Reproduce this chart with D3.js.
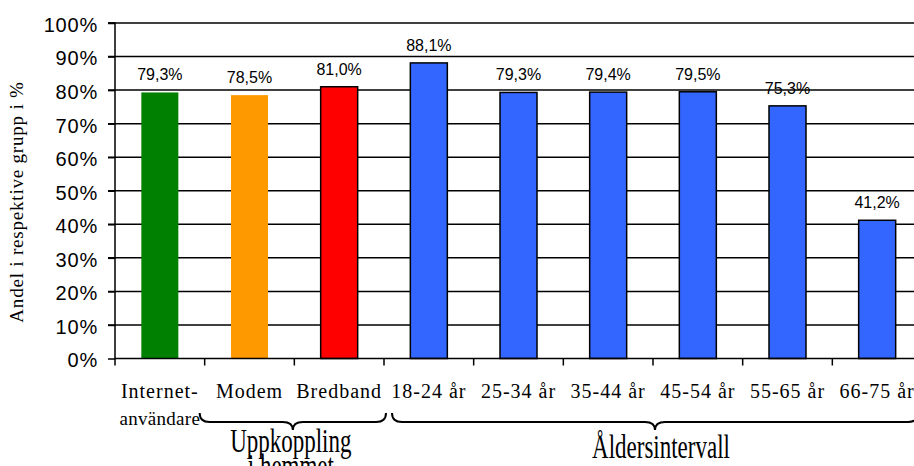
<!DOCTYPE html>
<html>
<head>
<meta charset="utf-8">
<script src="https://cdn.jsdelivr.net/npm/d3@7"></script>
<style>
  html, body { margin: 0; padding: 0; background: #fff; }
  svg { display: block; }
</style>
</head>
<body>
<div id="chart"></div>
<script>
// ── Data ─────────────────────────────────────────────────────────────────────
const categories = ['Internet-\nanvändare', 'Modem', 'Bredband', '18-24 år', '25-34 år',
                    '35-44 år', '45-54 år', '55-65 år', '66-75 år'];
const values     = [79.3, 78.5, 81.0, 88.1, 79.3, 79.4, 79.5, 75.3, 41.2];
const barColors  = ['#008000', '#ff9900', '#ff0000', '#3366ff', '#3366ff',
                    '#3366ff', '#3366ff', '#3366ff', '#3366ff'];
const outlined   = [false, false, true, true, true, true, true, true, true];
const yTicks     = [0, 10, 20, 30, 40, 50, 60, 70, 80, 90, 100];
const groups = [
  { label: ['Uppkoppling', 'i hemmet'], from: 'Modem', to: 'Bredband' },
  { label: ['Åldersintervall'], from: '18-24 år', to: '66-75 år' },
];
const yTitle = 'Andel i respektive grupp i %';

const W = 914, H = 466;
const plot = { left: 115, right: 922, top: 23, bottom: 358.5 };

const SERIF = '"Liberation Serif", "Times New Roman", serif';
const SANS  = '"Liberation Sans", Arial, sans-serif';

const svg = d3.select('#chart').append('svg')
  .attr('width', W).attr('height', H);

// ── Scales ───────────────────────────────────────────────────────────────────
const x = d3.scaleBand().domain(categories).range([plot.left, plot.right]).padding(0);
const y = d3.scaleLinear().domain([0, 100]).range([plot.bottom, plot.top]);
const bw = 37;

// ── Grid lines ───────────────────────────────────────────────────────────────
svg.append('g')
  .selectAll('line')
  .data(yTicks.filter(d => d > 0))
  .join('line')
  .attr('x1', plot.left - 7).attr('x2', W)
  .attr('y1', d => y(d)).attr('y2', d => y(d))
  .attr('stroke', '#000')
  .attr('stroke-width', 1.5);

// ── Bars ─────────────────────────────────────────────────────────────────────
svg.append('g')
  .selectAll('rect')
  .data(values)
  .join('rect')
  .attr('x', (d, i) => x(categories[i]) + (x.bandwidth() - bw) / 2)
  .attr('y', d => y(d))
  .attr('width', bw)
  .attr('height', d => y(0) - y(d))
  .attr('fill', (d, i) => barColors[i])
  .attr('stroke', (d, i) => outlined[i] ? '#000' : 'none')
  .attr('stroke-width', 1.5);

// ── Value labels ─────────────────────────────────────────────────────────────
svg.append('g')
  .selectAll('text')
  .data(values)
  .join('text')
  .attr('x', (d, i) => x(categories[i]) + x.bandwidth() / 2)
  .attr('y', d => y(d) - 12)
  .attr('text-anchor', 'middle')
  .attr('font-family', SANS)
  .attr('font-size', '16px')
  .attr('fill', '#000')
  .text(d => d.toFixed(1).replace('.', ',') + '%');

// ── Y axis ───────────────────────────────────────────────────────────────────
const yAxis = d3.axisLeft(y)
  .tickValues(yTicks)
  .tickSize(7)
  .tickPadding(10)
  .tickFormat(d => d + '%');

svg.append('g')
  .attr('transform', `translate(${plot.left},0)`)
  .call(yAxis)
  .call(ax => ax.select('.domain').attr('stroke', '#000').attr('stroke-width', 1.5)
    .attr('d', `M-7,${plot.top}H0V${plot.bottom + 7}`))
  .call(ax => ax.selectAll('.tick line').attr('stroke', '#000').attr('stroke-width', 1.5))
  .call(ax => ax.selectAll('.tick text')
    .attr('fill', '#000')
    .attr('font-family', SANS)
    .attr('font-size', '20px')
    .attr('letter-spacing', '0.8px')
    .attr('dy', '0.42em'));

// ── X axis ───────────────────────────────────────────────────────────────────
const boundaries = categories.map(c => x(c)).concat([plot.right]);
svg.append('line')
  .attr('x1', plot.left).attr('x2', W)
  .attr('y1', plot.bottom).attr('y2', plot.bottom)
  .attr('stroke', '#000').attr('stroke-width', 1.5);

svg.append('g')
  .selectAll('line')
  .data(boundaries.slice(1))
  .join('line')
  .attr('x1', d => d).attr('x2', d => d)
  .attr('y1', plot.bottom).attr('y2', plot.bottom + 7)
  .attr('stroke', '#000').attr('stroke-width', 1.5);

const xl = svg.append('g')
  .selectAll('text')
  .data(categories)
  .join('text')
  .attr('x', d => x(d) + x.bandwidth() / 2)
  .attr('y', 398)
  .attr('text-anchor', 'middle')
  .attr('font-family', SERIF)
  .attr('font-size', '20px')
  .attr('letter-spacing', '1px')
  .attr('fill', '#000');

xl.selectAll('tspan')
  .data(d => d.split('\n'))
  .join('tspan')
  .attr('x', function () { return d3.select(this.parentNode).attr('x'); })
  .attr('dy', (d, i) => i === 0 ? 0 : 27)
  .attr('font-size', (d, i) => i === 0 ? '20px' : '19px')
  .attr('letter-spacing', (d, i) => i === 0 ? '1px' : '0.3px')
  .text(d => d);

// ── Group braces ─────────────────────────────────────────────────────────────
const yEnd = 413, yLine = 422, yTip = 430, r = 10;
function brace(x1, x2) {
  const xm = (x1 + x2) / 2;
  return `M${x1},${yEnd} Q${x1},${yLine} ${x1 + r},${yLine} L${xm - r},${yLine} ` +
         `Q${xm},${yLine} ${xm},${yTip} Q${xm},${yLine} ${xm + r},${yLine} ` +
         `L${x2 - r},${yLine} Q${x2},${yLine} ${x2},${yEnd}`;
}

groups.forEach((g, gi) => {
  const x1 = x(g.from) - (gi === 0 ? 5 : -8);
  const x2 = x(g.to) + x.bandwidth() - (gi === 0 ? -2 : 4);
  svg.append('path')
    .attr('d', brace(x1, x2))
    .attr('fill', 'none')
    .attr('stroke', '#000')
    .attr('stroke-width', 2);

  const cx = (x1 + x2) / 2 + (gi === 0 ? -2 : 6);
  const t = svg.append('text')
    .attr('transform', `translate(${cx},${gi === 0 ? 452 : 458}) scale(1,1.45)`)
    .attr('text-anchor', 'middle')
    .attr('font-family', SERIF)
    .attr('font-size', '23px')
    .attr('fill', '#000');
  g.label.forEach((line, li) => {
    t.append('tspan').attr('x', 0).attr('dy', li === 0 ? 0 : 17).text(line);
  });
});

// ── Y title ──────────────────────────────────────────────────────────────────
svg.append('text')
  .attr('transform', `translate(23,${202}) rotate(-90)`)
  .attr('text-anchor', 'middle')
  .attr('font-family', SERIF)
  .attr('font-size', '19px')
  .attr('letter-spacing', '0.8px')
  .attr('fill', '#000')
  .text(yTitle);
</script>
</body>
</html>
